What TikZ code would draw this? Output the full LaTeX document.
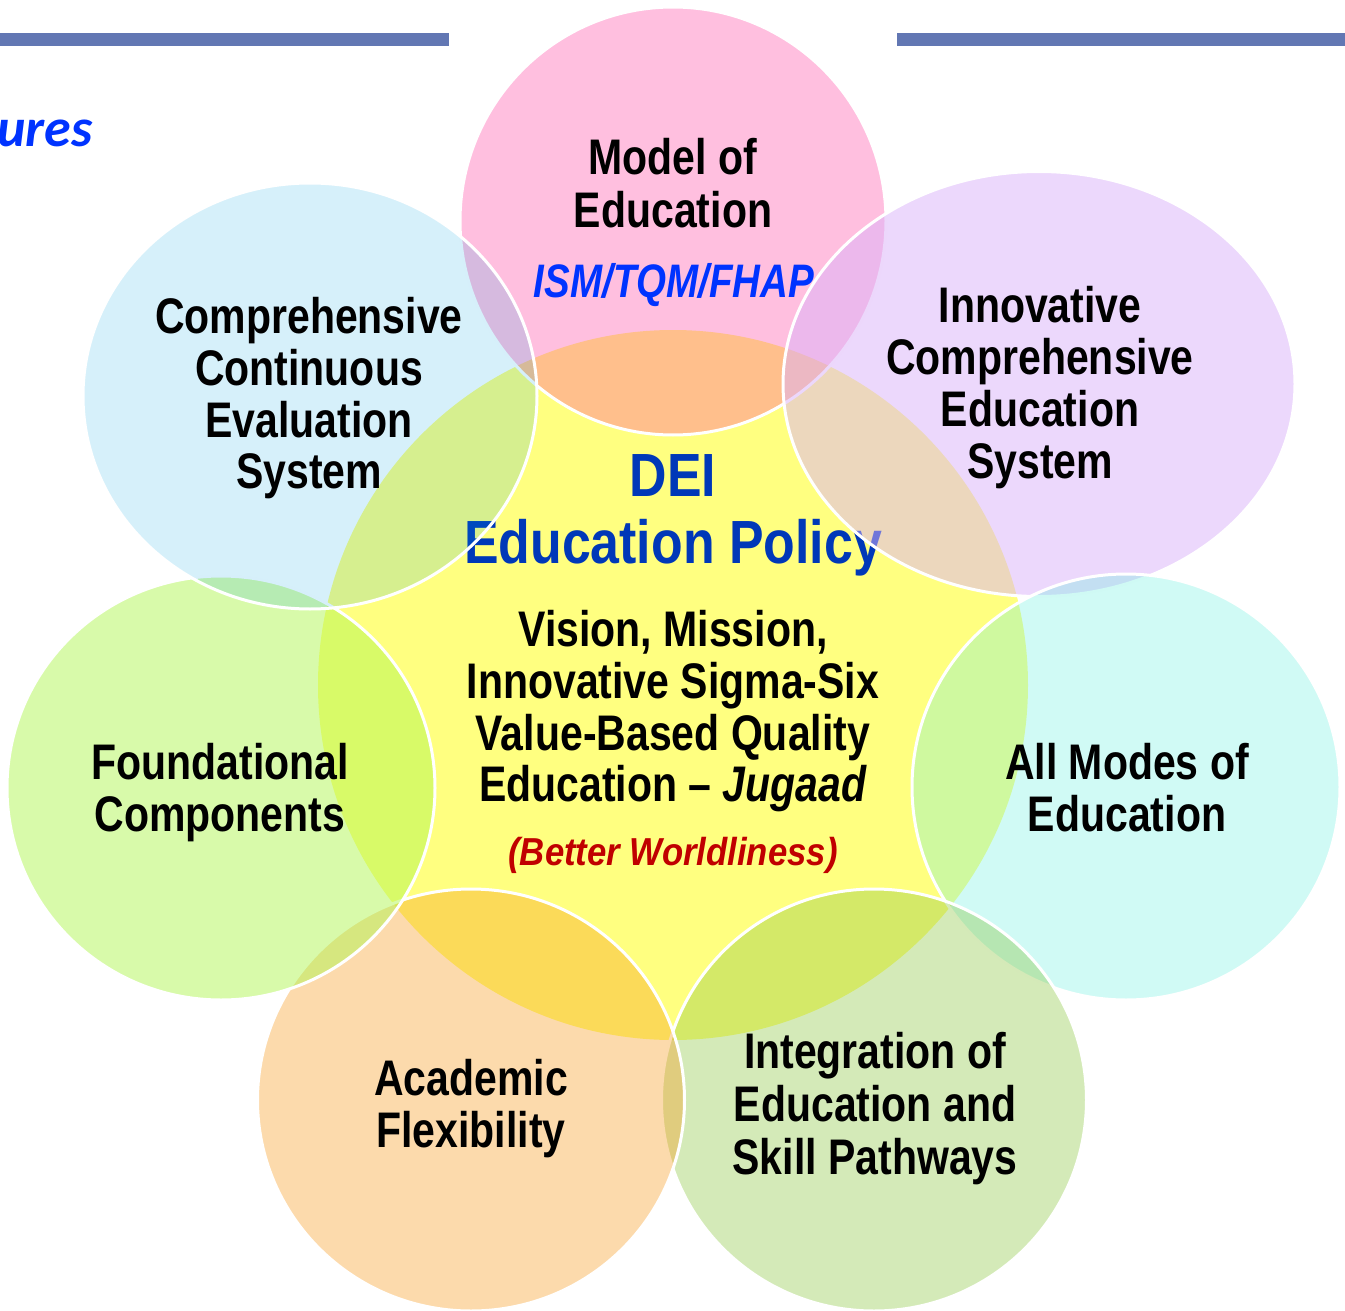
\documentclass[tikz,border=0pt]{standalone}
\usepackage{fontspec}
\usetikzlibrary{shapes.geometric}
\newfontfamily\cfa[FakeStretch=0.82]{Liberation Sans}
\newfontfamily\cfb[FakeStretch=0.85]{Liberation Sans}
\newfontfamily\cfc[FakeStretch=0.89]{Liberation Sans}
\newfontfamily\carl{Carlito}
\definecolor{barblue}{RGB}{98,119,179}
\definecolor{uresblue}{RGB}{0,51,255}
\definecolor{titleblue}{RGB}{0,56,184}
\definecolor{betterred}{RGB}{192,0,0}
\definecolor{cyel}{RGB}{255,255,128}
\definecolor{cpink}{RGB}{255,72,163}
\definecolor{cpur}{RGB}{218,178,249}
\definecolor{ccyan}{RGB}{112,239,224}
\definecolor{colive}{RGB}{139,198,63}
\definecolor{corange}{RGB}{246,149,18}
\definecolor{cgreen}{RGB}{174,245,78}
\definecolor{cblue}{RGB}{0,161,224}
\tikzset{
  bub/.style={ellipse, inner sep=0pt, outer sep=0pt, draw=white, line width=3pt},
  lbl/.style={anchor=base, inner sep=0pt, text=black, font=\cfa\bfseries\fontsize{50}{52}\selectfont},
  ttl/.style={anchor=base, inner sep=0pt, text=titleblue, font=\cfb\bfseries\fontsize{61}{64}\selectfont},
}
\begin{document}
\begin{tikzpicture}[x=1pt,y=-1pt]
\useasboundingbox (0,0) rectangle (1345,1311);
% top bars
\fill[barblue] (0,33) rectangle (449,46);
\fill[barblue] (897,33) rectangle (1345,46);
\node[anchor=base east, inner sep=0pt, text=uresblue, font=\carl\bfseries\itshape\fontsize{54}{60}\selectfont] (ures) at (93,147) {ures};
% central circle
\node[ellipse, inner sep=0pt, fill=cyel, minimum width=710pt, minimum height=710pt] (core) at (673,685) {};
\node[ttl] (dei) at (673,496) {DEI};
\node[ttl] (edp) at (673,563) {Education Policy};
\node[lbl] (v1) at (673,646) {Vision, Mission,};
\node[lbl] (v2) at (673,698) {Innovative Sigma-Six};
\node[lbl] (v3) at (673,750) {Value-Based Quality};
\node[lbl] (v4) at (673,801) {Education – \textit{Jugaad}};
\node[anchor=base, inner sep=0pt, text=betterred, font=\cfc\bfseries\itshape\fontsize{39}{42}\selectfont] (bw) at (673,865) {(Better Worldliness)};
% pink
\node[bub, fill=cpink, fill opacity=0.35, minimum width=426pt, minimum height=428pt] (pink) at (673,221) {};
\node[lbl] (p1) at (673,175) {Model of};
\node[lbl] (p2) at (673,228) {Education};
\node[anchor=base, inner sep=0pt, text=uresblue, font=\cfa\bfseries\itshape\fontsize{47}{50}\selectfont] (p3) at (674,297) {ISM/TQM/FHAP};
% purple
\node[bub, fill=cpur, fill opacity=0.51, minimum width=512pt, minimum height=425pt] (pur) at (1039,384) {};
\node[lbl] (u1) at (1040,322) {Innovative};
\node[lbl] (u2) at (1040,374) {Comprehensive};
\node[lbl] (u3) at (1040,426) {Education};
\node[lbl] (u4) at (1040,478) {System};
% cyan
\node[bub, fill=ccyan, fill opacity=0.33, minimum width=428pt, minimum height=426pt] (cyan) at (1126,787) {};
\node[lbl] (c1) at (1127,779) {All Modes of};
\node[lbl] (c2) at (1127,831) {Education};
% olive
\node[bub, fill=colive, fill opacity=0.37, minimum width=425pt, minimum height=422pt] (olive) at (874,1100) {};
\node[lbl] (o1) at (875,1068) {Integration of};
\node[lbl] (o2) at (875,1121) {Education and};
\node[lbl] (o3) at (875,1174) {Skill Pathways};
% orange
\node[bub, fill=corange, fill opacity=0.35, minimum width=427pt, minimum height=422pt] (orange) at (471,1100) {};
\node[lbl] (a1) at (471,1095) {Academic};
\node[lbl] (a2) at (471,1147) {Flexibility};
% green
\node[bub, fill=cgreen, fill opacity=0.48, minimum width=428pt, minimum height=424pt] (green) at (221,788) {};
\node[lbl] (g1) at (220,779) {Foundational};
\node[lbl] (g2) at (220,831) {Components};
% blue
\node[bub, fill=cblue, fill opacity=0.16, minimum width=454pt, minimum height=426pt] (blue) at (310,396) {};
\node[lbl] (b1) at (309,333) {Comprehensive};
\node[lbl] (b2) at (309,385) {Continuous};
\node[lbl] (b3) at (309,437) {Evaluation};
\node[lbl] (b4) at (309,488) {System};
\end{tikzpicture}
\end{document}
